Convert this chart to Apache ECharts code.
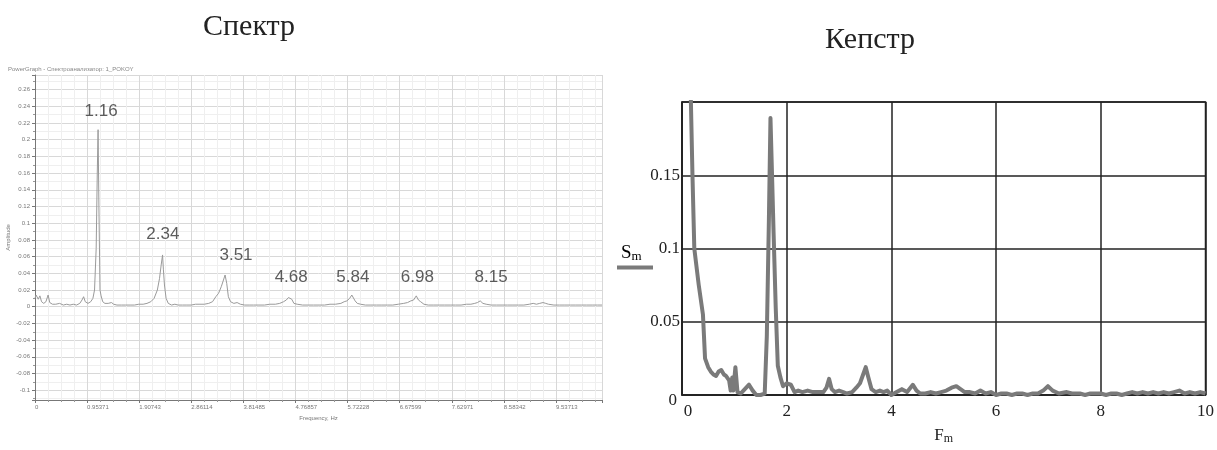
<!DOCTYPE html>
<html><head><meta charset="utf-8">
<script src="https://cdn.jsdelivr.net/npm/echarts@6/dist/echarts.min.js"></script>
<style>html,body{margin:0;padding:0;background:#fff}#c{width:1217px;height:450px}</style>
</head><body><div id="c"></div>
<script>
// ---- Spectrum (left) ----
const specFreq = [0.00,0.02,0.06,0.09,0.12,0.16,0.20,0.24,0.27,0.32,0.38,0.45,0.52,0.58,0.64,0.70,0.76,0.82,0.86,0.89,0.92,0.97,1.02,1.06,1.09,1.12,1.14,1.155,1.17,1.19,1.21,1.24,1.28,1.34,1.40,1.44,1.50,1.58,1.66,1.74,1.82,1.90,1.98,2.05,2.12,2.18,2.24,2.28,2.31,2.335,2.35,2.37,2.40,2.44,2.50,2.56,2.62,2.70,2.78,2.86,2.94,3.02,3.10,3.18,3.25,3.31,3.36,3.41,3.45,3.48,3.51,3.54,3.58,3.64,3.70,3.76,3.84,3.92,4.00,4.10,4.20,4.30,4.40,4.48,4.55,4.60,4.64,4.67,4.70,4.74,4.80,4.90,5.00,5.10,5.20,5.30,5.40,5.50,5.60,5.66,5.71,5.76,5.80,5.83,5.86,5.90,5.96,6.05,6.15,6.25,6.35,6.45,6.55,6.65,6.75,6.82,6.88,6.93,6.98,7.02,7.06,7.12,7.20,7.30,7.40,7.50,7.60,7.70,7.80,7.90,7.98,8.05,8.10,8.15,8.20,8.26,8.35,8.45,8.55,8.65,8.75,8.85,8.95,9.05,9.12,9.18,9.24,9.30,9.35,9.40,9.50,9.60,9.70,9.80,9.90,10.00,10.10,10.20,10.30,10.38];
const specAmp = [0.010,0.014,0.009,0.013,0.006,0.004,0.006,0.014,0.005,0.003,0.003,0.004,0.002,0.003,0.002,0.003,0.002,0.004,0.008,0.012,0.006,0.004,0.006,0.010,0.020,0.070,0.160,0.212,0.120,0.020,0.013,0.006,0.004,0.004,0.005,0.003,0.002,0.002,0.002,0.002,0.002,0.003,0.003,0.004,0.006,0.010,0.020,0.034,0.050,0.062,0.045,0.026,0.010,0.004,0.002,0.003,0.002,0.002,0.002,0.002,0.003,0.003,0.003,0.004,0.006,0.012,0.016,0.024,0.032,0.038,0.028,0.012,0.006,0.004,0.005,0.003,0.002,0.002,0.002,0.002,0.002,0.003,0.003,0.004,0.006,0.008,0.011,0.013,0.009,0.004,0.003,0.002,0.002,0.002,0.002,0.002,0.003,0.003,0.004,0.006,0.007,0.010,0.014,0.013,0.007,0.004,0.003,0.002,0.002,0.002,0.002,0.002,0.002,0.003,0.004,0.005,0.007,0.008,0.013,0.008,0.006,0.003,0.002,0.002,0.002,0.002,0.002,0.002,0.002,0.003,0.003,0.004,0.005,0.007,0.004,0.003,0.002,0.002,0.002,0.002,0.002,0.002,0.002,0.003,0.004,0.003,0.004,0.005,0.004,0.003,0.002,0.002,0.002,0.002,0.002,0.002,0.002,0.002,0.002,0.002];
const peakNames  = ['1.16','2.34','3.51','4.68','5.84','6.98','8.15'];
const peakLabelX = [1.21, 2.34, 3.68, 4.69, 5.82, 7.00, 8.35];
const peakLabelY = [0.234, 0.087, 0.061, 0.0356, 0.0356, 0.0356, 0.0356];
const specXStep = 0.953713;
const specXTickLabels = ['0','0.95371','1.90743','2.86114','3.81485','4.76857','5.72228','6.67599','7.62971','8.58342','9.53713'];

// ---- Cepstrum (right) ----
const cepX = [0.10,0.17,0.20,0.235,0.32,0.40,0.44,0.50,0.55,0.60,0.65,0.70,0.75,0.80,0.84,0.90,0.93,0.96,0.98,1.02,1.06,1.12,1.20,1.28,1.35,1.42,1.50,1.58,1.62,1.66,1.69,1.72,1.75,1.79,1.83,1.88,1.93,2.00,2.08,2.15,2.22,2.30,2.40,2.50,2.60,2.70,2.76,2.81,2.86,2.92,3.00,3.08,3.15,3.25,3.33,3.40,3.46,3.51,3.56,3.62,3.70,3.78,3.85,3.92,4.00,4.10,4.20,4.30,4.41,4.48,4.55,4.65,4.75,4.85,4.95,5.05,5.15,5.24,5.32,5.40,5.50,5.60,5.70,5.80,5.90,6.00,6.10,6.20,6.30,6.40,6.50,6.60,6.70,6.80,6.90,6.99,7.08,7.20,7.35,7.45,7.60,7.70,7.80,7.90,8.00,8.10,8.20,8.30,8.40,8.50,8.60,8.70,8.80,8.90,9.00,9.10,9.20,9.30,9.40,9.50,9.60,9.70,9.80,9.90,10.00];
const cepY = [0.320,0.200,0.150,0.100,0.075,0.055,0.025,0.019,0.016,0.014,0.013,0.016,0.017,0.014,0.013,0.010,0.003,0.012,0.003,0.019,0.002,0.001,0.004,0.007,0.003,0.000,0.000,0.001,0.040,0.120,0.189,0.150,0.110,0.060,0.020,0.012,0.006,0.008,0.007,0.002,0.003,0.002,0.003,0.002,0.002,0.002,0.005,0.011,0.004,0.002,0.003,0.002,0.001,0.002,0.005,0.008,0.014,0.019,0.012,0.004,0.002,0.003,0.002,0.003,0.000,0.002,0.004,0.002,0.007,0.003,0.001,0.001,0.002,0.001,0.002,0.003,0.005,0.006,0.004,0.002,0.002,0.001,0.003,0.001,0.002,0.000,0.001,0.001,0.000,0.001,0.001,0.000,0.001,0.001,0.003,0.006,0.003,0.001,0.002,0.001,0.001,0.000,0.001,0.001,0.001,0.000,0.001,0.001,0.000,0.001,0.002,0.001,0.002,0.001,0.002,0.001,0.002,0.001,0.002,0.003,0.001,0.002,0.001,0.002,0.001];

const chart = echarts.init(document.getElementById('c'));
const serif = "'Liberation Serif', 'Times New Roman', serif";
const sans = "'Liberation Sans', Arial, sans-serif";

chart.setOption({
  animation: false,
  backgroundColor: '#fff',
  graphic: [
    {type:'text', left: 203, top: 12, style:{text:'Спектр', font: "30px " + serif, fill:'#222'}},
    {type:'text', left: 825, top: 25, style:{text:'Кепстр', font: "30px " + serif, fill:'#222'}},
    {type:'text', left: 8, top: 66, style:{text:'PowerGraph - Спектроанализатор: 1_POKOY', font: "6px " + sans, fill:'#888'}},
    {type:'text', left: 621, top: 244, style:{text:'{a|S}{b|m}', rich:{a:{fontSize:19, fontFamily:serif, color:'#222'}, b:{fontSize:13, fontFamily:serif, color:'#222', padding:[6,0,0,0]}}}},
    {type:'line', shape:{x1:617, y1:267.5, x2:653, y2:267.5}, style:{stroke:'#7a7a7a', lineWidth:4}}
  ],
  grid: [
    {left:35, top:75, width:567, height:325},
    {left:682, top:102, width:524, height:298, show:true, borderColor:'#222', borderWidth:1.5, backgroundColor:'transparent'}
  ],
  xAxis: [
    {type:'value', gridIndex:0, min:0, max:10.38, interval:specXStep,
     axisLine:{onZero:false, lineStyle:{color:'#777'}},
     axisTick:{show:true, length:3, lineStyle:{color:'#777'}},
     minorTick:{show:true, splitNumber:4, length:2, lineStyle:{color:'#999'}},
     splitLine:{show:true, lineStyle:{color:'#d8d8d8'}},
     minorSplitLine:{show:true, lineStyle:{color:'#efefef'}},
     axisLabel:{fontSize:6, color:'#777', align:'left', margin:4, showMaxLabel:false,
       formatter:function(v){const i=Math.round(v/specXStep); return Math.abs(i*specXStep-v)<1e-6 ? (specXTickLabels[i]||'') : '';}},
     name:'Frequency, Hz', nameLocation:'middle', nameGap:13, nameTextStyle:{fontSize:6, color:'#777'}},
    {type:'value', gridIndex:1, min:0, max:10, interval:2,
     axisLine:{onZero:false, lineStyle:{color:'#222', width:1.5}},
     axisTick:{show:false},
     splitLine:{show:true, lineStyle:{color:'#222', width:1.5}},
     axisLabel:{fontFamily:serif, fontSize:17, color:'#222', margin:8,
       formatter:function(v){return v === 0 ? '{z|0}' : String(v);},
       rich:{z:{fontFamily:serif, fontSize:17, color:'#222', padding:[0,0,0,12]}}},
     name:'{a|F}{b|m}', nameLocation:'middle', nameGap:32,
     nameTextStyle:{rich:{a:{fontSize:17, fontFamily:serif, color:'#222'}, b:{fontSize:12, fontFamily:serif, color:'#222', padding:[6,0,0,0]}}}}
  ],
  yAxis: [
    {type:'value', gridIndex:0, min:-0.1117, max:0.2775, splitNumber:20,
     axisLine:{show:true, onZero:false, lineStyle:{color:'#777'}},
     axisTick:{show:true, length:3, lineStyle:{color:'#777'}},
     minorTick:{show:true, splitNumber:2, length:2, lineStyle:{color:'#999'}},
     splitLine:{show:true, lineStyle:{color:'#d8d8d8'}},
     minorSplitLine:{show:true, lineStyle:{color:'#efefef'}},
     axisLabel:{fontSize:6, color:'#777', margin:5, showMinLabel:false, showMaxLabel:false,
       formatter:function(v){return String(Math.round(v*100)/100);}},
     name:'Amplitude', nameLocation:'middle', nameGap:24, nameRotate:90, nameTextStyle:{fontSize:6, color:'#777'}},
    {type:'value', gridIndex:1, min:0, max:0.2, interval:0.05,
     axisLine:{show:true, onZero:false, lineStyle:{color:'#222', width:1.5}},
     axisTick:{show:false},
     splitLine:{show:true, lineStyle:{color:'#222', width:1.5}},
     axisLabel:{fontFamily:serif, fontSize:17, color:'#222', margin:2,
       formatter:function(v){return v > 0.19 ? '' : (v === 0 ? '{z|0}' : String(Math.round(v*100)/100));},
       rich:{z:{fontFamily:serif, fontSize:17, color:'#222', padding:[12,3,0,0]}}}}
  ],
  series: [
    {type:'line', xAxisIndex:0, yAxisIndex:0, showSymbol:false, symbol:'none',
     data: specFreq.map((f,i)=>[f, specAmp[i]]),
     lineStyle:{color:'#9a9a9a', width:1}},
    {type:'scatter', xAxisIndex:0, yAxisIndex:0, symbolSize:0, silent:true,
     data: peakNames.map((n,i)=>({name:n, value:[peakLabelX[i], peakLabelY[i]]})),
     label:{show:true, position:'inside', formatter:p=>p.name, fontFamily:sans, fontSize:17, color:'#333'}},
    {type:'line', xAxisIndex:1, yAxisIndex:1, showSymbol:false, symbol:'none', clip:true,
     data: cepX.map((x,i)=>[x, cepY[i]]),
     lineStyle:{color:'#7a7a7a', width:4, join:'round'}}
  ]
});
</script></body></html>
